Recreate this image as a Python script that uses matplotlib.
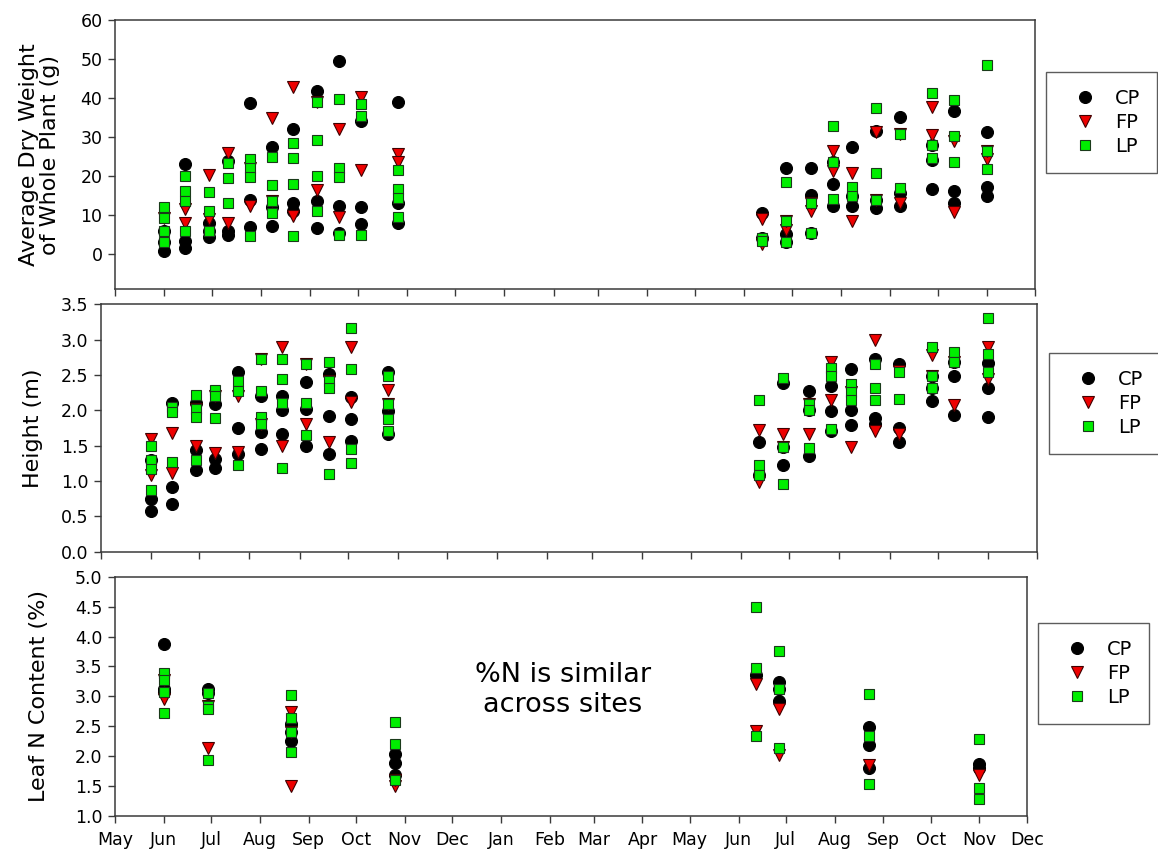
import pandas as pd
import matplotlib
matplotlib.use("Agg")
from matplotlib import pyplot as plt
import matplotlib.dates as mdates

# sampling dates shared by dry weight and height panels
gh_dates = ["2012-06-01", "2012-06-14", "2012-06-29", "2012-07-11", "2012-07-25",
            "2012-08-08", "2012-08-21", "2012-09-05", "2012-09-19", "2012-10-03",
            "2012-10-26", "2013-06-12", "2013-06-27", "2013-07-13", "2013-07-27",
            "2013-08-08", "2013-08-23", "2013-09-07", "2013-09-27", "2013-10-11",
            "2013-11-01"]

# average dry weight of whole plant (g)
dw_cp = [[0.7, 3.0, 6.0], [23.1, 3.4, 1.7], [8.1, 4.3, 6.0], [24.0, 5.0, 6.0],
         [38.7, 13.8, 7.0], [27.4, 12.0, 7.1], [32.0, 13.2, 11.0], [41.9, 13.7, 6.6],
         [49.6, 12.4, 5.5], [34.2, 12.0, 7.7], [38.9, 13.2, 8.1],
         [10.5, 4.1], [22.2, 5.1, 3.0], [22.1, 15.2, 5.3], [23.5, 18.1, 12.4],
         [27.4, 12.4, 14.8], [31.6, 11.8, 13.8], [35.2, 15.6, 12.4], [24.1, 16.7, 28.0],
         [36.8, 16.1, 13.2], [31.4, 17.1, 15.0]]
dw_fp = [[9.2], [11.5, 7.9], [20.3, 9.0], [26.0, 8.1],
         [12.4, 22.2], [34.9, 13.7], [42.9, 9.8], [16.4, 38.9],
         [32.2, 9.4], [40.2, 21.5], [25.6, 23.5],
         [9.0, 2.5], [6.2, 8.4], [11.1, 13.0], [26.5, 21.4],
         [20.9, 8.4], [31.2, 13.8], [30.9, 13.2], [37.8, 30.5],
         [29.0, 10.7], [24.4, 26.5]]
dw_lp = [[12.0, 9.2, 6.0, 3.0], [20.1, 16.1, 13.7, 6.0], [16.0, 11.1, 6.0], [23.3, 19.5, 13.1],
         [24.4, 22.2, 19.9, 4.7], [24.8, 17.7, 13.7, 10.5], [28.4, 24.6, 17.9, 4.7],
         [38.9, 29.2, 20.1, 11.1], [39.7, 22.2, 19.7, 4.9], [38.5, 35.5, 4.9],
         [21.6, 16.7, 14.5, 9.4],
         [4.1, 3.5], [18.4, 8.4, 3.0], [13.0, 5.3], [32.9, 23.5, 14.1],
         [17.1, 14.8], [37.4, 20.8, 13.8], [30.8, 16.9], [41.2, 28.0, 24.6],
         [39.5, 30.3, 23.5], [48.5, 26.5, 21.8]]

# height (m)
ht_cp = [[0.75, 0.57, 1.30], [2.10, 0.91, 0.68], [2.10, 1.44, 1.15], [2.09, 1.31, 1.19],
         [2.54, 1.75, 1.38], [2.20, 1.69, 1.45], [2.20, 2.00, 1.66], [2.40, 2.02, 1.50],
         [2.52, 1.92, 1.38], [2.19, 1.88, 1.57], [2.54, 1.99, 1.66],
         [1.55, 1.09], [2.39, 1.22, 1.48], [2.27, 1.36, 2.00], [2.34, 1.99, 1.71],
         [2.59, 2.00, 1.79], [2.72, 1.89, 1.80], [2.65, 1.75, 1.55], [2.13, 2.31, 2.48],
         [2.49, 1.93, 2.68], [2.67, 2.31, 1.91]]
ht_fp = [[1.60, 1.08], [1.68, 1.12], [1.50, 2.02], [1.39, 2.20],
         [2.20, 1.41], [2.73, 1.80], [2.90, 1.50], [1.80, 2.66],
         [1.55, 2.42], [2.90, 2.12], [2.29, 2.09],
         [1.72, 0.98], [1.66, 1.48], [1.67, 2.09], [2.69, 2.14],
         [1.48, 2.26], [3.00, 1.71], [2.56, 1.67], [2.78, 2.48],
         [2.07, 2.68], [2.90, 2.45]]
ht_lp = [[1.50, 1.30, 1.17, 0.87], [2.05, 1.97, 1.27], [2.22, 2.02, 1.91, 1.30], [2.29, 2.20, 1.89],
         [2.41, 2.28, 1.23], [2.73, 2.28, 1.91, 1.80], [2.73, 2.45, 2.10, 1.19],
         [2.66, 2.10, 1.65], [2.68, 2.42, 2.31, 1.10], [3.16, 2.59, 1.45, 1.26],
         [2.48, 2.09, 1.88, 1.71],
         [2.15, 1.22, 1.09], [2.46, 1.48, 0.96], [2.09, 2.00, 1.47], [2.60, 2.49, 1.74],
         [2.37, 2.26, 2.14], [2.65, 2.31, 2.14], [2.54, 2.16], [2.90, 2.48, 2.31],
         [2.82, 2.68], [3.30, 2.80, 2.54]]

# leaf N content (%)
n_dates = ["2012-06-01", "2012-06-29", "2012-08-21", "2012-10-26",
           "2013-06-12", "2013-06-27", "2013-08-23", "2013-11-01"]
n_cp = [[3.88, 3.13, 3.08], [3.13, 3.06], [2.26, 2.41, 2.53], [2.04, 1.88, 1.68],
        [3.35], [3.24, 2.93, 3.13], [2.48, 2.18, 1.81], [1.87, 1.81]]
n_fp = [[2.96, 3.28], [2.14, 2.84], [2.74, 1.50, 2.41], [1.50, 1.60],
        [3.20, 2.42], [2.79, 2.02], [1.85], [1.68]]
n_lp = [[3.39, 3.28, 3.08, 2.72], [3.06, 2.84, 2.79, 1.93], [3.02, 2.63, 2.41, 2.07], [2.57, 2.21, 1.60],
        [4.50, 3.48, 2.34], [3.75, 3.13, 2.14], [3.04, 2.33, 1.54], [2.29, 1.47, 1.28]]

sites = ["CP", "FP", "LP"]
styles = {
    "CP": dict(marker="o", markersize=8.6, markerfacecolor="black", markeredgecolor="black"),
    "FP": dict(marker="v", markersize=9.2, markerfacecolor="#ee0000", markeredgecolor="#400000"),
    "LP": dict(marker="s", markersize=7.6, markerfacecolor="#00ee00", markeredgecolor="#1a3a1a"),
}

plt.rcParams["font.family"] = ["DejaVu Sans"]
spine_col = "#3a3a3a"

fig = plt.figure(figsize=(11.58, 8.55), dpi=100)
# three separately placed panels (px: left, top, right, bottom)
W, H = 1158, 855
boxes = [(115, 20, 1035, 289.3), (100.7, 304.3, 1036.7, 551.7), (115, 576.7, 1026.7, 816)]
axes = [fig.add_axes([l / W, 1 - b / H, (r - l) / W, (b - t) / H]) for l, t, r, b in boxes]


def draw(ax, dates, series):
    d = pd.to_datetime(dates)
    for site, vals in zip(sites, series):
        xs, ys = [], []
        for day, v in zip(d, vals):
            xs += [day] * len(v)
            ys += v
        ax.plot(xs, ys, ls="none", markeredgewidth=0.8, label=site, **styles[site])


draw(axes[0], gh_dates, [dw_cp, dw_fp, dw_lp])
draw(axes[1], gh_dates, [ht_cp, ht_fp, ht_lp])
draw(axes[2], n_dates, [n_cp, n_fp, n_lp])

axes[0].set_ylim(-9, 60)
axes[0].set_yticks(range(0, 61, 10))
axes[1].set_ylim(0, 3.5)
axes[1].set_yticks([i * 0.5 for i in range(8)])
axes[1].yaxis.set_major_formatter(plt.FormatStrFormatter("%.1f"))
axes[2].set_ylim(1, 5)
axes[2].set_yticks([1 + i * 0.5 for i in range(9)])
axes[2].yaxis.set_major_formatter(plt.FormatStrFormatter("%.1f"))

for i, ax in enumerate(axes):
    ax.set_xlim(pd.Timestamp("2012-05-01"), pd.Timestamp("2013-12-01"))
    ax.xaxis.set_major_locator(mdates.MonthLocator())
    ax.xaxis.set_major_formatter(mdates.DateFormatter("%b"))
    for s in ax.spines.values():
        s.set_color(spine_col)
        s.set_linewidth(1.1)
    ax.tick_params(direction="out", length=5, width=1.0, color=spine_col,
                   labelsize=12.5, pad=4)
    ax.tick_params(axis="x", pad=6)
    if i < 2:
        ax.tick_params(axis="x", labelbottom=False)
    ax.legend(loc="upper left", frameon=True, fancybox=False, fontsize=14,
              edgecolor="#333333", borderpad=0.88, labelspacing=0.25,
              handlelength=2.2, handletextpad=0.45, borderaxespad=0,
              bbox_to_anchor=[(1046 / W, 1 - 72 / H), (1049 / W, 1 - 353 / H),
                              (1038 / W, 1 - 623 / H)][i],
              bbox_transform=fig.transFigure).get_frame().set_linewidth(1.0)

axes[0].set_ylabel("Average Dry Weight\nof Whole Plant (g)", fontsize=16, linespacing=1.05)
axes[0].yaxis.set_label_coords(-0.06, 0.5)
axes[1].set_ylabel("Height (m)", fontsize=16)
axes[1].yaxis.set_label_coords(-0.062, 0.5)
axes[2].set_ylabel("Leaf N Content (%)", fontsize=16)
axes[2].yaxis.set_label_coords(-0.072, 0.5)

fig.text(563 / W, 1 - 690 / H, "%N is similar\nacross sites", ha="center", va="center",
         fontsize=19.5, linespacing=1.15)

fig.savefig("out.png", dpi=100)
